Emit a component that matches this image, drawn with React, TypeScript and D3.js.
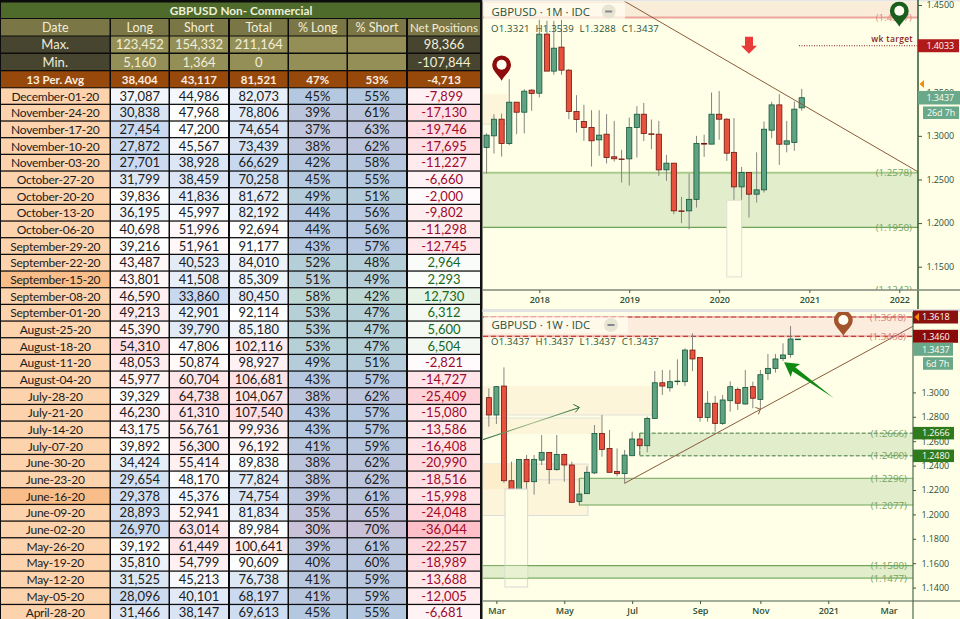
import { useEffect, useRef } from "react";
import * as d3 from "d3";

// COT table
const tableDates = [
  "December-01-20", "November-24-20", "November-17-20", "November-10-20", "November-03-20",
  "October-27-20", "October-20-20", "October-13-20", "October-06-20",
  "September-29-20", "September-22-20", "September-15-20", "September-08-20", "September-01-20",
  "August-25-20", "August-18-20", "August-11-20", "August-04-20",
  "July-28-20", "July-21-20", "July-14-20", "July-07-20",
  "June-30-20", "June-23-20", "June-16-20", "June-09-20", "June-02-20",
  "May-26-20", "May-19-20", "May-12-20", "May-05-20", "April-28-20",
];
const longs = [37087, 30838, 27454, 27872, 27701, 31799, 39836, 36195, 40698, 39216, 43487, 43801, 46590, 49213, 45390, 54310, 48053, 45977, 39329, 46230, 43175, 39892, 34424, 29654, 29378, 28893, 26970, 39192, 35810, 31525, 28096, 31466];
const shorts = [44986, 47968, 47200, 45567, 38928, 38459, 41836, 45997, 51996, 51961, 40523, 41508, 33860, 42901, 39790, 47806, 50874, 60704, 64738, 61310, 56761, 56300, 55414, 48170, 45376, 52941, 63014, 61449, 54799, 45213, 40101, 38147];
const totals = [82073, 78806, 74654, 73439, 66629, 70258, 81672, 82192, 92694, 91177, 84010, 85309, 80450, 92114, 85180, 102116, 98927, 106681, 104067, 107540, 99936, 96192, 89838, 77824, 74754, 81834, 89984, 100641, 90609, 76738, 68197, 69613];
const pctLong = [45, 39, 37, 38, 42, 45, 49, 44, 44, 43, 52, 51, 58, 53, 53, 53, 49, 43, 38, 43, 43, 41, 38, 38, 39, 35, 30, 39, 40, 41, 41, 45];
const pctShort = [55, 61, 63, 62, 58, 55, 51, 56, 56, 57, 48, 49, 42, 47, 47, 47, 51, 57, 62, 57, 57, 59, 62, 62, 61, 65, 70, 61, 60, 59, 59, 55];
const nets = [-7899, -17130, -19746, -17695, -11227, -6660, -2000, -9802, -11298, -12745, 2964, 2293, 12730, 6312, 5600, 6504, -2821, -14727, -25409, -15080, -13586, -16408, -20990, -18516, -15998, -24048, -36044, -22257, -18989, -13688, -12005, -6681];
const highlightedDates = ["September-15-20", "June-16-20"];
const tableHeads = ["Date", "Long", "Short", "Total", "% Long", "% Short", "Net Positions"];
const maxRow = ["Max.", "123,452", "154,332", "211,164", "", "", "98,366"];
const minRow = ["Min.", "5,160", "1,364", "0", "", "", "-107,844"];
const avgRow = ["13 Per. Avg", "38,404", "43,117", "81,521", "47%", "53%", "-4,713"];

// monthly candles, first one is June 2017
const monthlyOpen = [1.2866, 1.3, 1.3191, 1.2912, 1.3386, 1.3271, 1.3524, 1.3489, 1.4166, 1.3742, 1.4017, 1.3753, 1.3279, 1.3164, 1.3096, 1.2954, 1.3019, 1.276, 1.2735, 1.2736, 1.3096, 1.3248, 1.3023, 1.3019, 1.261, 1.2687, 1.214, 1.214, 1.2272, 1.2912, 1.2905, 1.3248, 1.3191, 1.2811, 1.2415, 1.258, 1.2331, 1.2381, 1.3065, 1.3355, 1.2904, 1.2924, 1.3321];
const monthlyHigh = [1.303, 1.3248, 1.3256, 1.365, 1.3386, 1.3535, 1.3535, 1.4338, 1.432, 1.4319, 1.4338, 1.3765, 1.3466, 1.3356, 1.3294, 1.3294, 1.3248, 1.3172, 1.284, 1.321, 1.334, 1.3378, 1.3187, 1.3172, 1.2782, 1.2687, 1.23, 1.2568, 1.3, 1.3013, 1.3497, 1.3514, 1.3203, 1.3203, 1.2644, 1.258, 1.2811, 1.3164, 1.339, 1.3478, 1.3172, 1.3394, 1.3539];
const monthlyLow = [1.2568, 1.2797, 1.2763, 1.2893, 1.3019, 1.3027, 1.3287, 1.344, 1.3742, 1.37, 1.37, 1.3191, 1.3038, 1.2943, 1.2648, 1.2771, 1.2683, 1.2705, 1.2465, 1.2431, 1.2752, 1.294, 1.2847, 1.2541, 1.2484, 1.2102, 1.2, 1.1929, 1.2178, 1.2759, 1.2905, 1.2955, 1.2713, 1.1409, 1.2262, 1.2063, 1.2236, 1.235, 1.2973, 1.2667, 1.2811, 1.2828, 1.3288];
const monthlyClose = [1.3008, 1.3191, 1.2912, 1.3386, 1.3271, 1.3512, 1.3486, 1.4166, 1.3742, 1.4005, 1.3753, 1.3279, 1.3187, 1.3096, 1.2943, 1.3008, 1.2752, 1.2737, 1.273, 1.3096, 1.3248, 1.3027, 1.3019, 1.261, 1.2687, 1.214, 1.2135, 1.2272, 1.2912, 1.2905, 1.3248, 1.3191, 1.2801, 1.2415, 1.258, 1.2331, 1.2381, 1.3076, 1.3355, 1.2904, 1.2943, 1.3306, 1.3437];

// weekly candles, first one is the week of 24 Feb 2020
const weeklyOpen = [1.2957, 1.2815, 1.3052, 1.2276, 1.1631, 1.2451, 1.2268, 1.2445, 1.2508, 1.2367, 1.2492, 1.2405, 1.2105, 1.217, 1.234, 1.2664, 1.2541, 1.2352, 1.2334, 1.2481, 1.2618, 1.2563, 1.2787, 1.3079, 1.3038, 1.309, 1.3088, 1.3347, 1.3287, 1.2795, 1.2911, 1.2746, 1.2932, 1.3025, 1.2905, 1.3047, 1.2943, 1.3156, 1.3197, 1.3277, 1.3312, 1.3437];
const weeklyHigh = [1.3033, 1.3052, 1.3205, 1.2432, 1.2451, 1.2487, 1.2487, 1.2651, 1.2508, 1.2651, 1.25, 1.2432, 1.2296, 1.2394, 1.2733, 1.2815, 1.2692, 1.2541, 1.2528, 1.2678, 1.2664, 1.2801, 1.3175, 1.3184, 1.3184, 1.3271, 1.3361, 1.3484, 1.3287, 1.3011, 1.2971, 1.2979, 1.309, 1.3041, 1.3184, 1.3088, 1.3184, 1.3315, 1.3315, 1.3402, 1.3544, 1.3437];
const weeklyLow = [1.2719, 1.2741, 1.2258, 1.1409, 1.1456, 1.2208, 1.2162, 1.2405, 1.2249, 1.2358, 1.2268, 1.2099, 1.2072, 1.2167, 1.2331, 1.2473, 1.2345, 1.2312, 1.2254, 1.2478, 1.2487, 1.2509, 1.2787, 1.2979, 1.3006, 1.3061, 1.3053, 1.3175, 1.276, 1.276, 1.2678, 1.2733, 1.2842, 1.2856, 1.2897, 1.287, 1.2856, 1.3102, 1.3162, 1.3257, 1.3285, 1.3437];
const weeklyClose = [1.2815, 1.3047, 1.2276, 1.1631, 1.2451, 1.2268, 1.2451, 1.2508, 1.2367, 1.2492, 1.2405, 1.2099, 1.2167, 1.2345, 1.2664, 1.2533, 1.2345, 1.2334, 1.2486, 1.2618, 1.2563, 1.2787, 1.3079, 1.3052, 1.3088, 1.3093, 1.3347, 1.3274, 1.2795, 1.2911, 1.2746, 1.2938, 1.3047, 1.2911, 1.3041, 1.2952, 1.3145, 1.3197, 1.3274, 1.3307, 1.3438, 1.3437];

const topTicks = [1.45, 1.35, 1.3, 1.25, 1.2, 1.15];
const bottomTicks = [1.3, 1.28, 1.26, 1.24, 1.22, 1.2, 1.18, 1.16, 1.14];
const topYears = ["2018-01-01", "2019-01-01", "2020-01-01", "2021-01-01", "2022-01-01"];
const bottomMonths = ["2020-03-02", "2020-05-04", "2020-07-06", "2020-09-07", "2020-11-02", "2021-01-04", "2021-03-01"];
const bottomMonthNames = ["Mar", "May", "Jul", "Sep", "Nov", "2021", "Mar"];

const day = d3.utcParse("%Y-%m-%d");
const d = (s: string) => day(s) as Date;

const GREEN = "#5fa382";
const GREEN_EDGE = "#14553a";
const RED = "#e9513f";
const RED_EDGE = "#6d1610";
const ZONE = "#e2edcb";
const ZONE_LINE = "#6fa558";
const ZONE_TEXT = "#74a462";
const CREAM = "#fdf5d9";
const BG = "#ffffe8";
const UI_FONT = "'Open Sans', sans-serif";

export default function App() {
  const ref = useRef<SVGSVGElement | null>(null);

  useEffect(() => {
    const svg = d3.select(ref.current);
    svg.selectAll("*").remove();

    drawTable(svg);

    svg.append("rect").attr("x", 480).attr("y", 0).attr("width", 480).attr("height", 619).attr("fill", BG);
    svg.append("rect").attr("x", 480).attr("y", 0).attr("width", 2.5).attr("height", 619).attr("fill", "#111");
    svg.append("rect").attr("x", 482.5).attr("y", 0).attr("width", 477.5).attr("height", 1.5).attr("fill", "#e6e6e6");
    svg.append("rect").attr("x", 482.5).attr("y", 309).attr("width", 477.5).attr("height", 3).attr("fill", "#e2e2e2");

    drawMonthly(svg);
    drawWeekly(svg);
  }, []);

  return <svg ref={ref} width={960} height={619} style={{ position: "absolute", left: 0, top: 0, display: "block" }} />;
}

function drawTable(svg: any) {
  const colX = [1, 111, 170, 230, 289, 348, 408];
  const colW = [108.5, 57.5, 58, 57.5, 57.5, 58, 72];
  const font = "Lato, 'Open Sans', sans-serif";

  svg.append("rect").attr("width", 480).attr("height", 619).attr("fill", "#0c0c0c");

  const cell = (col: number, y: number, h: number, fill: string, label: string, color: string, bold = false, size = 13, spacing = 0) => {
    svg.append("rect").attr("x", colX[col]).attr("y", y).attr("width", colW[col]).attr("height", h).attr("fill", fill);
    if (label === "") return;
    svg
      .append("text")
      .attr("x", colX[col] + colW[col] / 2)
      .attr("y", y + h / 2 + 4.5)
      .attr("text-anchor", "middle")
      .attr("font-family", font)
      .attr("font-size", size)
      .attr("font-weight", bold ? 700 : 400)
      .attr("letter-spacing", spacing)
      .attr("fill", color)
      .text(label);
  };

  svg.append("rect").attr("x", 1).attr("y", 2.5).attr("width", 479).attr("height", 15.5).attr("fill", "#4f6b2b");
  svg
    .append("text")
    .attr("x", 241)
    .attr("y", 14.5)
    .attr("text-anchor", "middle")
    .attr("font-family", font)
    .attr("font-size", 11.8)
    .attr("font-weight", 700)
    .attr("fill", "#eef0dc")
    .text("GBPUSD Non- Commercial");

  tableHeads.forEach((t, c) => cell(c, 19, 16.5, "#7b7646", t, "#f1eed8", false, c === 6 ? 11.6 : 12.5));
  maxRow.forEach((t, c) => cell(c, 36.5, 16, c === 0 || c === 6 ? "#47452f" : "#948e57", t, "#f1eed8"));
  minRow.forEach((t, c) => cell(c, 54, 16, c === 0 || c === 6 ? "#47452f" : "#948e57", t, "#f1eed8"));
  avgRow.forEach((t, c) => cell(c, 71.3, 16, "#97490c", t, "#fbeee0", true, 11.5));

  const heat = (lo: number, mid: number, hi: number, a = "#c8d8ef", b = "#ffffff", e = "#ffdfe3") =>
    d3.scaleLinear<string>().domain([lo, mid, hi]).range([a, b, e]).clamp(true);
  const longFill = heat(26970, 40000, 54310);
  const shortFill = heat(33860, 47500, 64738);
  const totalFill = heat(66629, 92000, 107540);
  const pctFill = d3
    .scaleLinear<string>()
    .domain([30, 38, 45, 52, 58])
    .range(["#c9c1d8", "#bcc5dc", "#b4c9e0", "#b5cfd8", "#bdd7d3"]);
  const netFill = d3.scaleLinear<string>().domain([-36044, 0, 12730]).range(["#ffbfc8", "#ffffff", "#e8f4e6"]);
  // plain hyphen for negatives, as in the sheet
  const fmt = (v: number) => d3.format(",")(v).replace("\u2212", "-");

  tableDates.forEach((date, i) => {
    const y = 88.3 + i * 16.67;
    const h = 15.4;
    cell(0, y, h, highlightedDates.includes(date) ? "#f9bd8a" : "#fdd3ae", date, "#1c1c1c", false, 12, -0.25);
    cell(1, y, h, longFill(longs[i]), fmt(longs[i]), "#1c1c1c");
    cell(2, y, h, shortFill(shorts[i]), fmt(shorts[i]), "#1c1c1c");
    cell(3, y, h, totalFill(totals[i]), fmt(totals[i]), "#1c1c1c");
    cell(4, y, h, pctFill(pctLong[i]), pctLong[i] + "%", "#1c1c1c");
    cell(5, y, h, pctFill(100 - pctShort[i]), pctShort[i] + "%", "#1c1c1c");
    cell(6, y, h, netFill(nets[i]), fmt(nets[i]), nets[i] < 0 ? "#9c0a2c" : "#17681c");
  });
}

function candles(g: any, x: any, y: any, dates: Date[], o: number[], h: number[], l: number[], c: number[], w: number) {
  dates.forEach((date, i) => {
    const up = c[i] >= o[i];
    g.append("line")
      .attr("x1", x(date))
      .attr("x2", x(date))
      .attr("y1", y(h[i]))
      .attr("y2", y(l[i]))
      .attr("stroke", "#868680")
      .attr("stroke-width", 1);
    const top = y(Math.max(o[i], c[i]));
    const bot = y(Math.min(o[i], c[i]));
    g.append("rect")
      .attr("x", x(date) - w / 2)
      .attr("y", top)
      .attr("width", w)
      .attr("height", Math.max(bot - top, 0.6))
      .attr("fill", up ? GREEN : RED)
      .attr("stroke", up ? GREEN_EDGE : RED_EDGE)
      .attr("stroke-width", 0.8);
  });
}

function pin(g: any, px: number, py: number, color: string) {
  g.append("path")
    .attr("transform", `translate(${px},${py})`)
    .attr("d", "M0,0 C-3,-6 -9.4,-9.5 -9.4,-16 A9.4,9.4 0 1 1 9.4,-16 C9.4,-9.5 3,-6 0,0 Z")
    .attr("fill", color);
  g.append("circle").attr("cx", px).attr("cy", py - 16).attr("r", 5).attr("fill", "#fffdf0");
}

function tag(g: any, x: number, cy: number, w: number, h: number, fill: string, label: string, tx: number) {
  g.append("rect").attr("x", x).attr("y", cy - h / 2).attr("width", w).attr("height", h).attr("fill", fill);
  g.append("text")
    .attr("x", tx)
    .attr("y", cy + 3.3)
    .attr("font-family", UI_FONT)
    .attr("font-size", 9)
    .attr("letter-spacing", -0.1)
    .attr("fill", "#fdfdf5")
    .text(label);
}

function chartHeader(g: any, title: string, ohlc: string, boxY: number, boxH: number, boxW: number, minusX: number) {
  g.append("rect")
    .attr("x", 484)
    .attr("y", boxY)
    .attr("width", boxW)
    .attr("height", boxH)
    .attr("fill", "#fffdf0")
    .attr("opacity", 0.72);
  g.append("text")
    .attr("x", 491.5)
    .attr("y", boxY + boxH / 2 + 4.3)
    .attr("font-family", UI_FONT)
    .attr("font-size", 11.4)
    .attr("fill", "#2a5236")
    .text(title);
  g.append("circle").attr("cx", minusX).attr("cy", boxY + boxH / 2).attr("r", 7).attr("fill", "#e7e4d2");
  g.append("rect").attr("x", minusX - 3.5).attr("y", boxY + boxH / 2 - 1).attr("width", 7).attr("height", 2).attr("fill", "#85858f");
  g.append("text")
    .attr("x", 491)
    .attr("y", boxY + boxH + 11.5)
    .attr("font-family", UI_FONT)
    .attr("font-size", 9.6)
    .attr("letter-spacing", 0.2)
    .attr("word-spacing", 3)
    .attr("fill", "#2a5236")
    .text(ohlc);
}

function priceLabel(g: any, px: number, py: number, label: string, color: string) {
  g.append("text")
    .attr("x", px)
    .attr("y", py + 3.6)
    .attr("text-anchor", "end")
    .attr("font-family", UI_FONT)
    .attr("font-size", 9.8)
    .attr("fill", color)
    .text(label);
}

function styleAxis(a: any) {
  a.select(".domain").remove();
  a.selectAll("line").attr("stroke", "#3d5a3d");
  a.selectAll("text").attr("font-family", UI_FONT).attr("font-size", 9).attr("letter-spacing", -0.1).attr("fill", "#2f4f36");
}

function drawMonthly(svg: any) {
  const x = d3.scaleUtc().domain([d("2018-01-01"), d("2022-01-01")]).range([539.3, 899.3]);
  const y = d3.scaleLinear().domain([1.15, 1.45]).range([266.7, 5]);
  const right = 918;
  const months = d3.range(monthlyOpen.length).map((i) => d3.utcMonth.offset(d("2017-06-01"), i));

  svg.append("clipPath").attr("id", "top-clip").append("rect").attr("x", 483).attr("y", 1.5).attr("width", right - 483).attr("height", 288.5);
  const g = svg.append("g").attr("clip-path", "url(#top-clip)");

  // supply band up top
  g.append("rect").attr("x", 483).attr("y", 0).attr("width", 435).attr("height", y(1.4357)).attr("fill", "#f9edd9");
  g.append("line").attr("x1", 483).attr("x2", right).attr("y1", y(1.4357)).attr("y2", y(1.4357)).attr("stroke", "#eba59c").attr("stroke-width", 2);
  // old box on the left
  g.append("rect")
    .attr("x", x(d("2017-05-01")))
    .attr("y", y(1.3478))
    .attr("width", x(d("2017-08-25")) - x(d("2017-05-01")))
    .attr("height", y(1.3134) - y(1.3478))
    .attr("fill", CREAM);
  g.append("line").attr("x1", 483).attr("x2", x(d("2017-08-25"))).attr("y1", y(1.3134)).attr("y2", y(1.3134)).attr("stroke", "#e4e2d2");

  // demand zone
  g.append("rect").attr("x", 483).attr("y", y(1.2578)).attr("width", 435).attr("height", y(1.195) - y(1.2578)).attr("fill", ZONE);
  g.append("line").attr("x1", 483).attr("x2", right).attr("y1", y(1.2578)).attr("y2", y(1.2578)).attr("stroke", "#a8cb8c").attr("stroke-width", 2);
  g.append("line").attr("x1", 483).attr("x2", right).attr("y1", y(1.195)).attr("y2", y(1.195)).attr("stroke", ZONE_LINE).attr("stroke-width", 1.2);

  candles(g, x, y, months, monthlyOpen, monthlyHigh, monthlyLow, monthlyClose, 5.2);

  // the pale box sits on top of the March 2020 wick
  g.append("rect")
    .attr("x", x(d("2020-02-01")))
    .attr("y", y(1.2262))
    .attr("width", x(d("2020-04-01")) - x(d("2020-02-01")))
    .attr("height", y(1.1383) - y(1.2262))
    .attr("fill", BG)
    .attr("stroke", "#dfdfd6");

  g.append("line")
    .attr("x1", x(d("2018-12-10")))
    .attr("y1", y(1.4548))
    .attr("x2", x(d("2022-03-16")))
    .attr("y2", y(1.2591))
    .attr("stroke", "#8c5a3c")
    .attr("stroke-width", 1);

  g.append("line")
    .attr("x1", x(d("2020-11-20")))
    .attr("x2", right)
    .attr("y1", y(1.4033))
    .attr("y2", y(1.4033))
    .attr("stroke", "#8a1c1c")
    .attr("stroke-dasharray", "1 1.5");

  priceLabel(g, 912, y(1.2578), "(1.2578)", ZONE_TEXT);
  priceLabel(g, 912, y(1.195), "(1.1950)", ZONE_TEXT);
  priceLabel(g, 912, y(1.1242), "(1.1242)", ZONE_TEXT);
  priceLabel(g, 912, y(1.4357), "(1.4357)", "#e08b80");
  g.append("text")
    .attr("x", 913)
    .attr("y", 42)
    .attr("text-anchor", "end")
    .attr("font-family", UI_FONT)
    .attr("font-size", 8.5)
    .attr("font-weight", 600)
    .attr("letter-spacing", 0.3)
    .attr("fill", "#8a1c1c")
    .text("wk target");

  pin(g, x(d("2017-08-01")), y(1.3631), "#8e0b0b");
  pin(g, x(d("2022-01-01")), y(1.425), "#1a5e1e");

  // red arrow pointing down
  const ax = x(d("2020-05-01"));
  const ay = y(1.394);
  g.append("path")
    .attr("transform", `translate(${ax},${ay})`)
    .attr("d", "M0,0 L-8,-8 L-4,-8 L-4,-17 L4,-17 L4,-8 L8,-8 Z")
    .attr("fill", "#e93c3a");

  chartHeader(g, "GBPUSD · 1M · IDC", "O1.3321 H1.3539 L1.3288 C1.3437", 3, 17, 141, 608.7);

  // axes
  svg.append("line").attr("x1", right).attr("x2", right).attr("y1", 0).attr("y2", 309).attr("stroke", "#1f4d1f").attr("stroke-width", 1.4);
  svg.append("line").attr("x1", 483).attr("x2", 960).attr("y1", 290).attr("y2", 290).attr("stroke", "#81887a").attr("stroke-width", 1.4);

  const ya = svg
    .append("g")
    .attr("transform", `translate(${right},0)`)
    .call(d3.axisRight(y).tickValues(topTicks).tickSize(4).tickPadding(4.5).tickFormat(d3.format(".4f") as any));
  styleAxis(ya);

  const xa = svg
    .append("g")
    .attr("transform", "translate(0,290)")
    .call(d3.axisBottom(x).tickValues(topYears.map(d)).tickSize(3).tickPadding(4).tickFormat(d3.utcFormat("%Y") as any));
  styleAxis(xa);
  xa.selectAll("text").attr("font-weight", 600);

  tag(svg, right, y(1.4033), 41, 13, "#b01a1a", "1.4033", 926.5);
  tag(svg, right, y(1.3437), 42, 13.5, "#6aa88a", "1.3437", 926.5);
  tag(svg, 923, y(1.3437) + 15, 36, 12.5, "#6aa88a", "26d 7h", 927);
  svg.append("path").attr("d", `M919.5,${y(1.3594)} L924,${y(1.3594) - 4} L924,${y(1.3594) + 4} Z`).attr("fill", "#f68a0e");
}

function drawWeekly(svg: any) {
  const x = d3.scaleUtc().domain([d("2020-03-02"), d("2021-03-01")]).range([496.4, 888.6]);
  const y = d3.scaleLinear().domain([1.14, 1.3]).range([587.6, 392.4]);
  const right = 913;
  const weeks = d3.range(weeklyOpen.length).map((i) => d3.utcWeek.offset(d("2020-02-24"), i));

  svg.append("clipPath").attr("id", "bot-clip").append("rect").attr("x", 483).attr("y", 312).attr("width", right - 483).attr("height", 289);
  const g = svg.append("g").attr("clip-path", "url(#bot-clip)");

  const box = (from: Date, to: Date, hi: number, lo: number, fill: string, stroke: string) =>
    g
      .append("rect")
      .attr("x", x(from))
      .attr("y", y(hi))
      .attr("width", x(to) - x(from))
      .attr("height", y(lo) - y(hi))
      .attr("fill", fill)
      .attr("stroke", stroke);

  // supply band
  g.append("rect").attr("x", 483).attr("y", y(1.3618)).attr("width", right - 483).attr("height", y(1.346) - y(1.3618)).attr("fill", "#fbecdd");
  [1.3618, 1.346].forEach((p) => {
    g.append("line").attr("x1", 483).attr("x2", right).attr("y1", y(p)).attr("y2", y(p)).attr("stroke", "#eeb1a8").attr("stroke-width", 2);
    g.append("line").attr("x1", 483).attr("x2", right).attr("y1", y(p)).attr("y2", y(p)).attr("stroke", "#c2403c").attr("stroke-width", 1.2).attr("stroke-dasharray", "5 3");
  });

  // old boxes
  box(d("2020-02-15"), d("2020-07-25"), 1.3052, 1.2815, CREAM, "none");
  g.append("line").attr("x1", 483).attr("x2", x(d("2020-07-25"))).attr("y1", y(1.2815)).attr("y2", y(1.2815)).attr("stroke", "#e2e2dc");
  box(d("2020-02-15"), d("2020-06-07"), 1.279, 1.2659, CREAM, "none");
  g.append("line").attr("x1", 483).attr("x2", x(d("2020-06-07"))).attr("y1", y(1.279)).attr("y2", y(1.279)).attr("stroke", "#e2e2dc");
  box(d("2020-02-15"), d("2020-05-26"), 1.2413, 1.1991, CREAM, "#dcdcd8");
  box(d("2020-02-15"), d("2020-03-31"), 1.2413, 1.2208, "#fdeecb", "none");
  g.append("line").attr("x1", x(d("2020-03-31"))).attr("x2", x(d("2020-05-18"))).attr("y1", y(1.2284)).attr("y2", y(1.2284)).attr("stroke", "#dcdcd8");

  // demand zones, each with its left edge date
  const zone = (from: Date, hi: number, lo: number, dash: string | null, color: string) => {
    g.append("rect").attr("x", x(from)).attr("y", y(hi)).attr("width", right - x(from)).attr("height", y(lo) - y(hi)).attr("fill", ZONE);
    [hi, lo].forEach((p) => {
      g.append("line")
        .attr("x1", x(from))
        .attr("x2", right)
        .attr("y1", y(p))
        .attr("y2", y(p))
        .attr("stroke", color)
        .attr("stroke-width", 1)
        .attr("stroke-dasharray", dash);
    });
    g.append("line").attr("x1", x(from)).attr("x2", x(from)).attr("y1", y(hi)).attr("y2", y(lo)).attr("stroke", color).attr("stroke-dasharray", dash);
  };
  zone(d("2020-07-13"), 1.2666, 1.248, "4 2", "#3e7a3a");
  zone(d("2020-05-18"), 1.2296, 1.2077, null, ZONE_LINE);
  zone(d("2020-02-15"), 1.158, 1.1477, null, ZONE_LINE);

  candles(g, x, y, weeks, weeklyOpen, weeklyHigh, weeklyLow, weeklyClose, 5);

  // pale box hiding the March 2020 lows, the lowest zone still shows through it
  box(d("2020-03-10"), d("2020-03-31"), 1.2208, 1.1405, BG, "#d6d6d4");
  g.append("line").attr("x1", x(d("2020-03-10"))).attr("x2", right).attr("y1", y(1.158)).attr("y2", y(1.158)).attr("stroke", ZONE_LINE);
  g.append("line").attr("x1", x(d("2020-03-10"))).attr("x2", right).attr("y1", y(1.1477)).attr("y2", y(1.1477)).attr("stroke", "#9cc384").attr("stroke-width", 1.4);
  g.append("rect")
    .attr("x", x(d("2020-03-10")))
    .attr("y", y(1.158))
    .attr("width", x(d("2020-03-31")) - x(d("2020-03-10")))
    .attr("height", y(1.1477) - y(1.158))
    .attr("fill", ZONE)
    .attr("opacity", 0.8);

  // trend line and the little mark on it
  g.append("line")
    .attr("x1", x(d("2020-06-29")))
    .attr("y1", y(1.2255))
    .attr("x2", x(d("2021-03-24")))
    .attr("y2", y(1.3544))
    .attr("stroke", "#8c5a3c")
    .attr("stroke-width", 1);
  const mx = x(d("2020-11-02"));
  const my = y(1.2861);
  g.append("path").attr("d", `M${mx - 5},${my - 2} L${mx},${my} L${mx - 2},${my + 5}`).attr("fill", "none").attr("stroke", "#8c5a3c");

  // thin rising arrow on the left
  const defs = svg.append("defs");
  const grad = defs.append("linearGradient").attr("id", "rise").attr("gradientUnits", "userSpaceOnUse");
  grad.attr("x1", x(d("2020-02-15"))).attr("x2", x(d("2020-05-18"))).attr("y1", 0).attr("y2", 0);
  grad.append("stop").attr("offset", "0").attr("stop-color", "#2f6f3a");
  grad.append("stop").attr("offset", "0.55").attr("stop-color", "#a3bd8c");
  grad.append("stop").attr("offset", "1").attr("stop-color", "#2f6f3a");
  const ex = x(d("2020-05-18"));
  const ey = y(1.2877);
  g.append("line")
    .attr("x1", x(d("2020-02-15")))
    .attr("y1", y(1.2603))
    .attr("x2", ex)
    .attr("y2", ey)
    .attr("stroke", "url(#rise)")
    .attr("stroke-width", 1.1);
  g.append("path").attr("d", `M${ex - 6},${ey - 3} L${ex},${ey} L${ex - 4},${ey + 5}`).attr("fill", "none").attr("stroke", "#2f6f3a").attr("stroke-width", 1);

  // green wedge arrow
  const tipX = x(d("2020-11-24"));
  const tipY = y(1.3247);
  const tailX = x(d("2021-01-09"));
  const tailY = y(1.2954);
  const len = Math.hypot(tailX - tipX, tailY - tipY);
  const ux = (tailX - tipX) / len;
  const uy = (tailY - tipY) / len;
  const at = (along: number, side: number): [number, number] => [tipX + ux * along - uy * side, tipY + uy * along + ux * side];
  g.append("path")
    .attr("d", d3.line()([at(0, 0), at(14, -8), at(12, -2.5), at(len, 0), at(12, 2.5), at(14, 8)]) + "Z")
    .attr("fill", "#0f8a12");

  ["(1.3618)", "(1.3460)"].forEach((t, i) => priceLabel(g, 906, y(i === 0 ? 1.3618 : 1.346), t, "#d9807a"));
  [1.2666, 1.248, 1.2296, 1.2077, 1.158, 1.1477].forEach((p) => priceLabel(g, 907, y(p), `(${p.toFixed(4)})`, ZONE_TEXT));

  pin(g, x(d("2021-01-18")), y(1.3462), "#a4542a");

  chartHeader(g, "GBPUSD · 1W · IDC", "O1.3437 H1.3437 L1.3437 C1.3437", 316.5, 17, 144, 611);

  svg.append("line").attr("x1", right).attr("x2", right).attr("y1", 312).attr("y2", 619).attr("stroke", "#4c6a4c").attr("stroke-width", 1.2);
  svg.append("line").attr("x1", 483).attr("x2", 960).attr("y1", 601).attr("y2", 601).attr("stroke", "#4c5e4c").attr("stroke-width", 1.2);

  const ya = svg
    .append("g")
    .attr("transform", `translate(${right},0)`)
    .call(d3.axisRight(y).tickValues(bottomTicks).tickSize(3).tickPadding(5.5).tickFormat(d3.format(".4f") as any));
  styleAxis(ya);

  const xa = svg
    .append("g")
    .attr("transform", "translate(0,601)")
    .call(
      d3
        .axisBottom(x)
        .tickValues(bottomMonths.map(d))
        .tickSize(3)
        .tickPadding(4)
        .tickFormat((_: any, i: number) => bottomMonthNames[i]),
    );
  styleAxis(xa);
  xa.selectAll("text").attr("font-weight", 600);

  tag(svg, right, y(1.3618), 45, 13, "#8b1010", "1.3618", 922);
  tag(svg, right, y(1.346), 45, 13, "#8b0a0a", "1.3460", 922);
  tag(svg, right, 349.3, 40, 13, "#6aa88a", "1.3437", 922);
  tag(svg, 923, 363.5, 30, 12.5, "#6aa88a", "6d 7h", 926);
  tag(svg, right, y(1.2666), 41, 12.5, "#2f7a1c", "1.2666", 922);
  tag(svg, right, y(1.248), 41, 12.5, "#2f7a1c", "1.2480", 922);
  svg.append("path").attr("d", `M914.5,${y(1.3618)} L919,${y(1.3618) - 4} L919,${y(1.3618) + 4} Z`).attr("fill", "#f68a0e");
}
